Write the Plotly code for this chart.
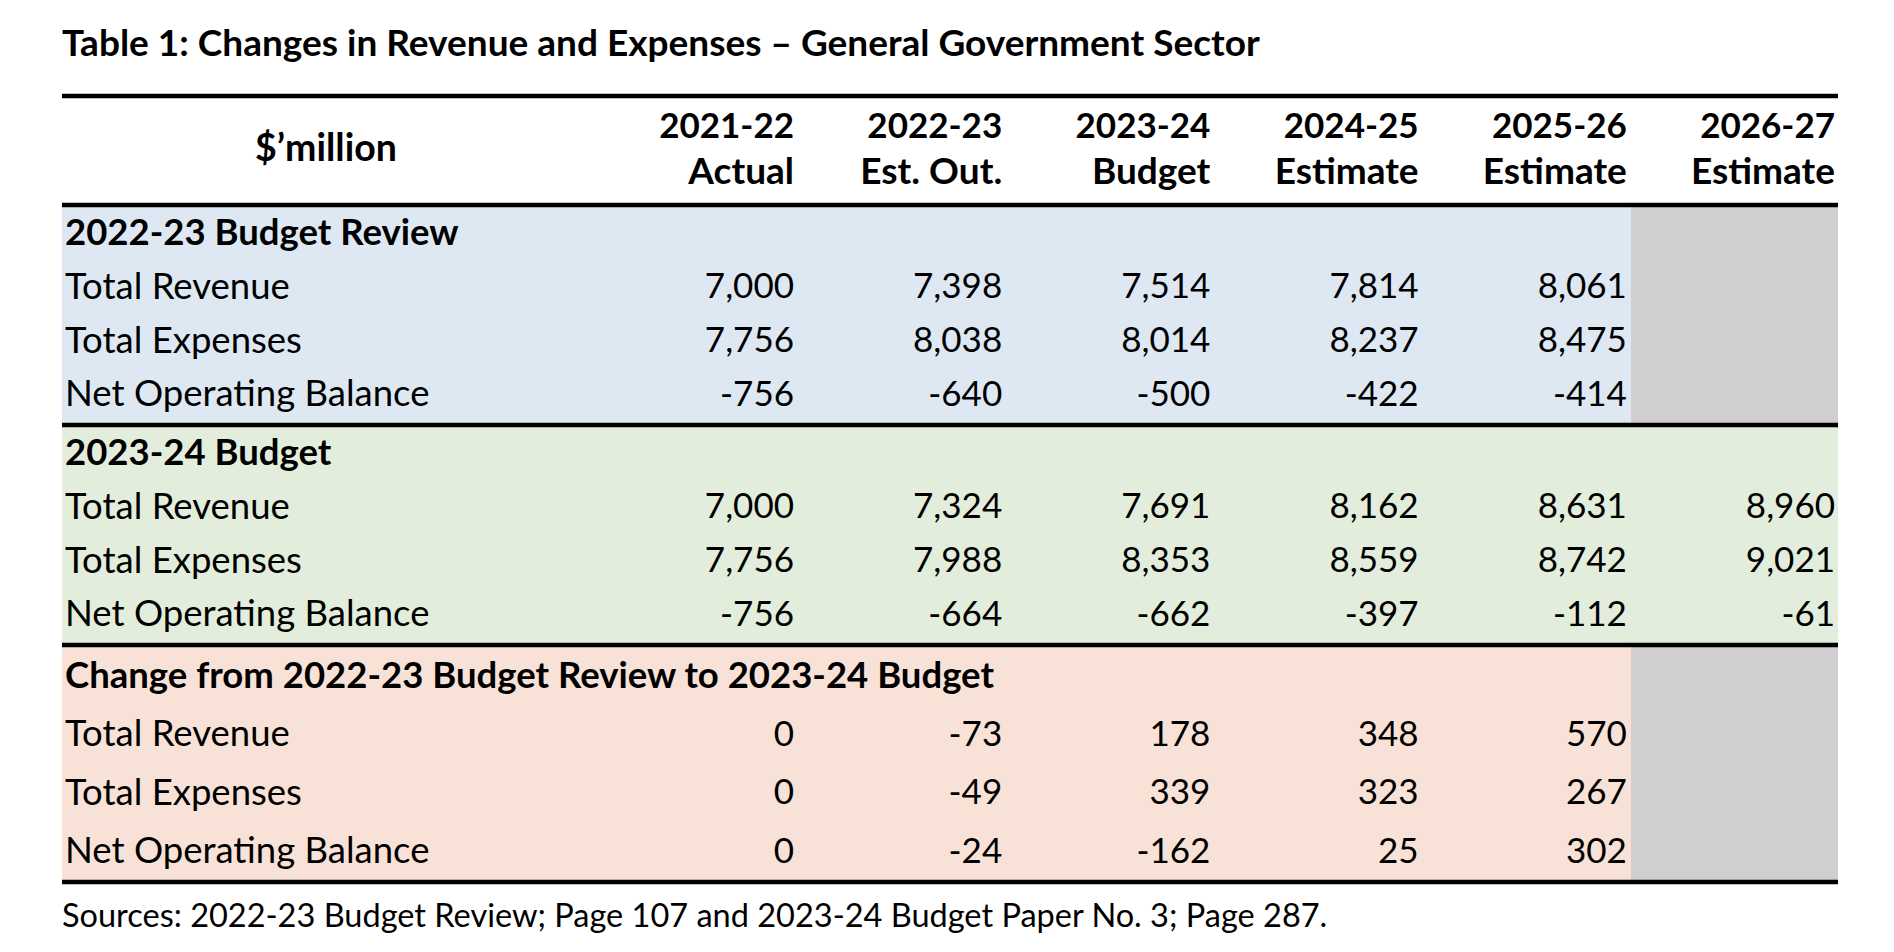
import plotly.graph_objects as go

# table content
years = ["2021-22", "2022-23", "2023-24", "2024-25", "2025-26", "2026-27"]
year_types = ["Actual", "Est. Out.", "Budget", "Estimate", "Estimate", "Estimate"]
row_labels = ["Total Revenue", "Total Expenses", "Net Operating Balance"]
section_titles = [
    "2022-23 Budget Review",
    "2023-24 Budget",
    "Change from 2022-23 Budget Review to 2023-24 Budget",
]

review_revenue = [7000, 7398, 7514, 7814, 8061, None]
review_expenses = [7756, 8038, 8014, 8237, 8475, None]
review_nob = [-756, -640, -500, -422, -414, None]

budget_revenue = [7000, 7324, 7691, 8162, 8631, 8960]
budget_expenses = [7756, 7988, 8353, 8559, 8742, 9021]
budget_nob = [-756, -664, -662, -397, -112, -61]

change_revenue = [0, -73, 178, 348, 570, None]
change_expenses = [0, -49, 339, 323, 267, None]
change_nob = [0, -24, -162, 25, 302, None]

title = "Table 1: Changes in Revenue and Expenses \u2013 General Government Sector"
unit_label = "$\u2019million"
source_note = "Sources: 2022-23 Budget Review; Page 107 and 2023-24 Budget Paper No. 3; Page 287."

sections = [
    [review_revenue, review_expenses, review_nob],
    [budget_revenue, budget_expenses, budget_nob],
    [change_revenue, change_expenses, change_nob],
]

# layout (pixel grid)
W, H = 1894, 952
FONT = "Lato, Carlito, Calibri, sans-serif"
LEFT, RIGHT = 54, 1830
COL0, COL_LAST = 786, 1827
col_x = [COL0 + i * (COL_LAST - COL0) / (len(years) - 1) for i in range(len(years))]
GRAY_LEFT = 1623
sec_top = [199, 419, 639]
sec_bottom = [417, 637, 874]
head_off = [29, 29, 32]
row_pitch = [53.7, 53.7, 58.3]
fills = ["#DDE8F3", "#E3EDDB", "#F8E2D7"]
GRAY = "#D0CECF"
gray_col = [True, False, True]

SZ_NUM, SZ_LABEL, SZ_HEAD = 35, 36.5, 36.5

fig = go.Figure()

shapes = []
for s in range(3):
    shapes.append(dict(type="rect", xref="x", yref="y", x0=LEFT, x1=RIGHT,
                       y0=sec_top[s], y1=sec_bottom[s], fillcolor=fills[s],
                       line_width=0, layer="below"))
    if gray_col[s]:
        shapes.append(dict(type="rect", xref="x", yref="y", x0=GRAY_LEFT, x1=RIGHT,
                           y0=sec_top[s], y1=sec_bottom[s], fillcolor=GRAY,
                           line_width=0, layer="below"))
for yy in [88, 197] + sec_bottom:
    shapes.append(dict(type="line", xref="x", yref="y", x0=LEFT, x1=RIGHT,
                       y0=yy, y1=yy, line=dict(color="black", width=4.5)))

# title and source
fig.add_trace(go.Scatter(x=[LEFT], y=[39], mode="text", text=[f"<b>{title}</b>"],
                         textposition="middle right",
                         textfont=dict(family=FONT, size=37, color="black")))
fig.add_trace(go.Scatter(x=[LEFT], y=[911], mode="text", text=[source_note],
                         textposition="middle right",
                         textfont=dict(family=FONT, size=32.5, color="black")))

# header
fig.add_trace(go.Scatter(x=[318], y=[144], mode="text", text=[f"<b>{unit_label}</b>"],
                         textposition="middle center",
                         textfont=dict(family=FONT, size=37.5, color="black")))
fig.add_trace(go.Scatter(x=col_x, y=[121] * len(years), mode="text",
                         text=[f"<b>{y}</b>" for y in years],
                         textposition="middle left",
                         textfont=dict(family=FONT, size=35, color="black")))
fig.add_trace(go.Scatter(x=col_x, y=[167] * len(years), mode="text",
                         text=[f"<b>{t}</b>" for t in year_types],
                         textposition="middle left",
                         textfont=dict(family=FONT, size=37, color="black")))

# body
for s, rows in enumerate(sections):
    hy = sec_top[s] + head_off[s]
    fig.add_trace(go.Scatter(x=[LEFT + 3], y=[hy], mode="text",
                             text=[f"<b>{section_titles[s]}</b>"],
                             textposition="middle right",
                             textfont=dict(family=FONT, size=SZ_HEAD, color="black")))
    for r, values in enumerate(rows):
        ry = hy + (r + 1) * row_pitch[s]
        fig.add_trace(go.Scatter(x=[LEFT + 3], y=[ry], mode="text", text=[row_labels[r]],
                                 textposition="middle right",
                                 textfont=dict(family=FONT, size=SZ_LABEL, color="black")))
        xs = [col_x[i] for i, v in enumerate(values) if v is not None]
        txt = [f"{v:,}" for v in values if v is not None]
        fig.add_trace(go.Scatter(x=xs, y=[ry] * len(xs), mode="text", text=txt,
                                 textposition="middle left",
                                 textfont=dict(family=FONT, size=SZ_NUM, color="black")))

fig.update_layout(
    width=W, height=H,
    margin=dict(l=0, r=0, t=0, b=0),
    paper_bgcolor="white", plot_bgcolor="white",
    showlegend=False,
    shapes=shapes,
    xaxis=dict(range=[0, W], visible=False, fixedrange=True),
    yaxis=dict(range=[H, 0], visible=False, fixedrange=True),
    hovermode=False,
)

fig.write_html("out.html", config={"displayModeBar": False})
